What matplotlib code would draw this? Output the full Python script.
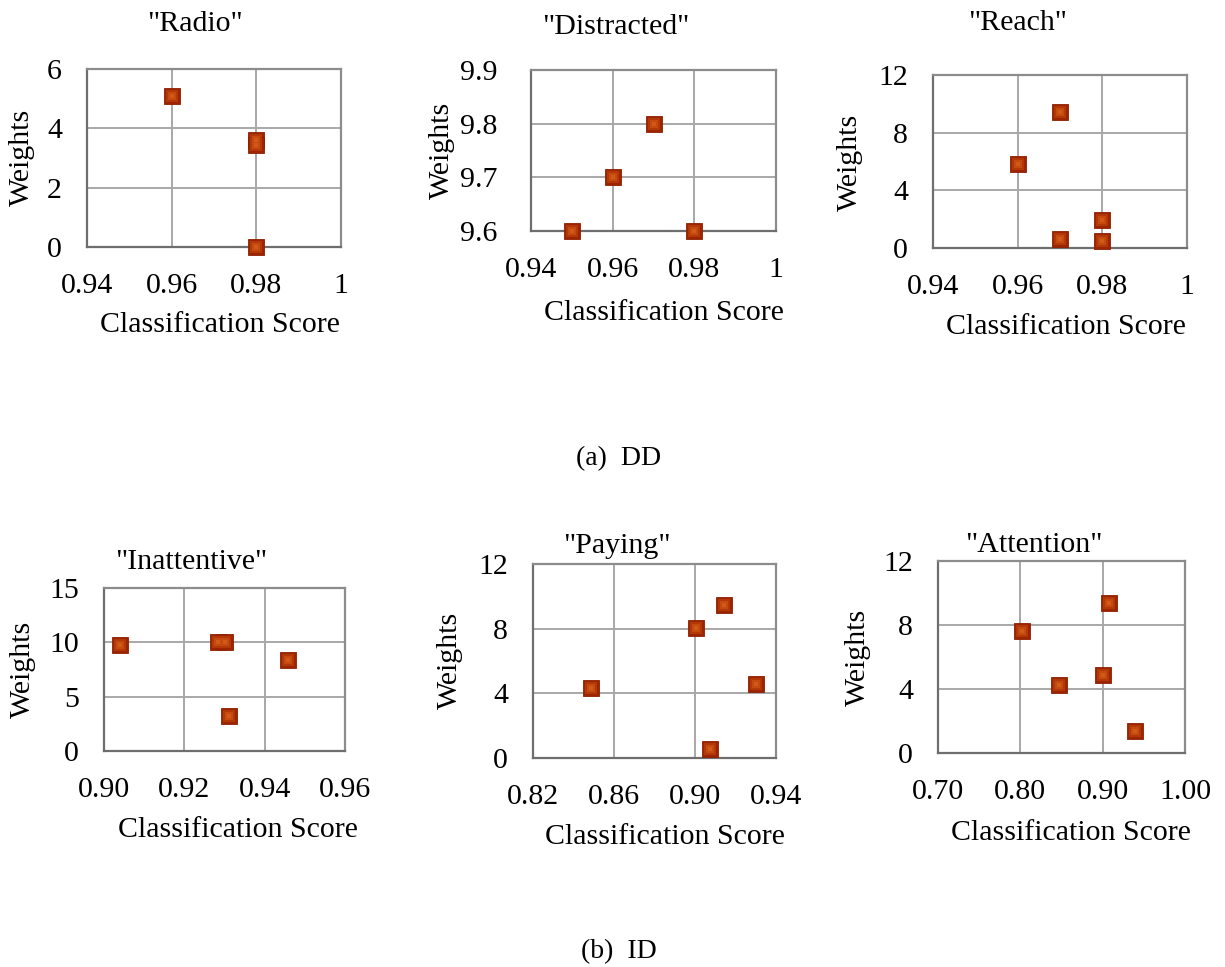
import matplotlib
matplotlib.use("Agg")
import matplotlib.pyplot as plt
from matplotlib.ticker import FixedLocator, FixedFormatter

plt.rcParams['font.family'] = ['Liberation Serif', 'DejaVu Serif']

W, H = 1225, 967

# ---- data ----
titles = ['"Radio"', '"Distracted"', '"Reach"', '"Inattentive"', '"Paying"', '"Attention"']

radio_x = [0.96, 0.98, 0.98, 0.98]
radio_y = [5.1, 3.6, 3.45, 0.0]

distracted_x = [0.95, 0.96, 0.97, 0.98]
distracted_y = [9.6, 9.7, 9.8, 9.6]

reach_x = [0.96, 0.97, 0.97, 0.98, 0.98]
reach_y = [5.85, 9.45, 0.6, 1.95, 0.5]

inattentive_x = [0.904, 0.9285, 0.9300, 0.9457, 0.9312]
inattentive_y = [9.75, 10.0, 10.0, 8.4, 3.25]

paying_x = [0.8486, 0.9005, 0.9145, 0.930, 0.9075]
paying_y = [4.35, 8.07, 9.48, 4.58, 0.54]

attention_x = [0.802, 0.847, 0.9076, 0.9007, 0.939]
attention_y = [7.63, 4.22, 9.36, 4.88, 1.39]

xticks_dd = [0.94, 0.96, 0.98, 1.0]
xlabels_dd = ["0.94", "0.96", "0.98", "1"]
xticks_inatt = [0.90, 0.92, 0.94, 0.96]
xlabels_inatt = ["0.90", "0.92", "0.94", "0.96"]
xticks_pay = [0.82, 0.86, 0.90, 0.94]
xlabels_pay = ["0.82", "0.86", "0.90", "0.94"]
xticks_att = [0.70, 0.80, 0.90, 1.00]
xlabels_att = ["0.70", "0.80", "0.90", "1.00"]

yticks_radio = [0, 2, 4, 6]
ylabels_radio = ["0", "2", "4", "6"]
yticks_dist = [9.6, 9.7, 9.8, 9.9]
ylabels_dist = ["9.6", "9.7", "9.8", "9.9"]
yticks_12 = [0, 4, 8, 12]
ylabels_12 = ["0", "4", "8", "12"]
yticks_15 = [0, 5, 10, 15]
ylabels_15 = ["0", "5", "10", "15"]

captions = ["(a)  DD", "(b)  ID"]

# ---- layout (pixels) ----
panels = [
    (radio_x, radio_y, xticks_dd, xlabels_dd, yticks_radio, ylabels_radio,
     (87, 341, 69, 247), (195, 24), (22, 157), (220, 325), 18),
    (distracted_x, distracted_y, xticks_dd, xlabels_dd, yticks_dist, ylabels_dist,
     (531, 776, 70, 231), (616, 27), (442, 150), (664, 313), 24),
    (reach_x, reach_y, xticks_dd, xlabels_dd, yticks_12, ylabels_12,
     (933, 1187, 75, 248), (1018, 23), (850, 162), (1066, 327), 18),
    (inattentive_x, inattentive_y, xticks_inatt, xlabels_inatt, yticks_15, ylabels_15,
     (104, 345, 588, 751), (191, 562), (23, 669), (238, 830), 18),
    (paying_x, paying_y, xticks_pay, xlabels_pay, yticks_12, ylabels_12,
     (533, 776, 564, 758), (617, 546), (450, 660), (665, 837), 18),
    (attention_x, attention_y, xticks_att, xlabels_att, yticks_12, ylabels_12,
     (938, 1185, 561, 753), (1034, 545), (858, 657), (1071, 833), 18),
]

fig = plt.figure(figsize=(W / 100, H / 100), dpi=100)
fs = 21.5

def fx(px):
    return px / W

def fy(py):
    return 1 - py / H

for i, (xs, ys, xt, xl, yt, yl, box, tpos, ypos, xpos, ypad) in enumerate(panels):
    l, r, t, b = box
    ax = fig.add_axes([fx(l), fy(b), (r - l) / W, (b - t) / H])
    ax.set_xlim(xt[0], xt[-1])
    ax.set_ylim(yt[0], yt[-1])
    ax.xaxis.set_major_locator(FixedLocator(xt))
    ax.xaxis.set_major_formatter(FixedFormatter(xl))
    ax.yaxis.set_major_locator(FixedLocator(yt))
    ax.yaxis.set_major_formatter(FixedFormatter(yl))
    ax.tick_params(axis='both', length=0, labelsize=fs, colors='black')
    ax.tick_params(axis='x', pad=19)
    ax.tick_params(axis='y', pad=ypad)
    ax.grid(True, color='#a8a8a8', linewidth=1.4)
    ax.set_axisbelow(True)
    for s in ax.spines.values():
        s.set_color('#8c8c8c')
        s.set_linewidth(1.6)
    ax.spines['bottom'].set_color('#6e6e6e')
    ax.spines['left'].set_color('#6e6e6e')
    # gradient-like square markers
    ax.plot(xs, ys, linestyle='none', marker='s', markersize=11,
            markerfacecolor='#9c2400', markeredgecolor='#8e1e00', markeredgewidth=0.6,
            clip_on=False, zorder=3)
    ax.plot(xs, ys, linestyle='none', marker='s', markersize=8.5,
            markerfacecolor='#b23808', markeredgewidth=0, clip_on=False, zorder=4)
    ax.plot(xs, ys, linestyle='none', marker='s', markersize=6,
            markerfacecolor='#c44a10', markeredgewidth=0, clip_on=False, zorder=5)
    ax.plot(xs, ys, linestyle='none', marker='s', markersize=3.5,
            markerfacecolor='#d25a18', markeredgewidth=0, clip_on=False, zorder=6)
    fig.text(fx(tpos[0]), fy(tpos[1]), titles[i], ha='center', va='center', fontsize=fs)
    fig.text(fx(ypos[0]), fy(ypos[1]), "Weights", ha='center', va='center',
             rotation=90, fontsize=fs)
    fig.text(fx(xpos[0]), fy(xpos[1]), "Classification Score", ha='center', va='center',
             fontsize=fs)

fig.text(fx(619), fy(459), captions[0], ha='center', va='center', fontsize=20)
fig.text(fx(619), fy(952), captions[1], ha='center', va='center', fontsize=20)

fig.savefig("out.png", dpi=100, facecolor='white')
